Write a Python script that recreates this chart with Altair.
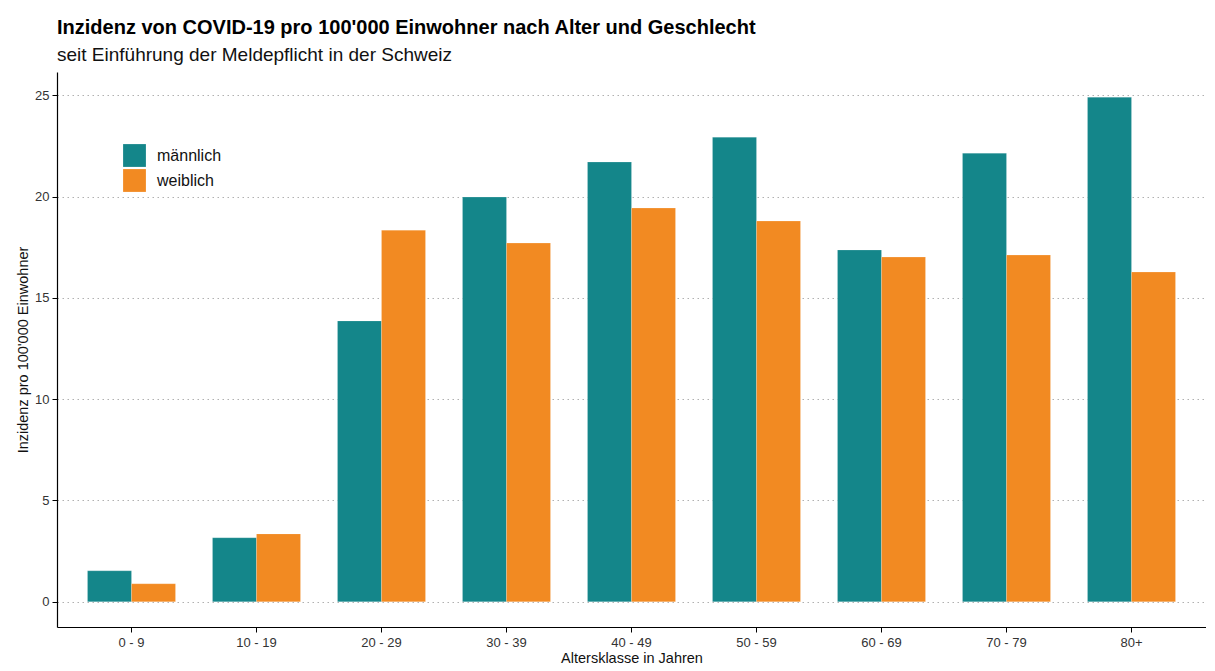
import altair as alt
import pandas as pd

categories = ["0 - 9", "10 - 19", "20 - 29", "30 - 39", "40 - 49", "50 - 59", "60 - 69", "70 - 79", "80+"]
maennlich = [1.53, 3.16, 13.86, 19.97, 21.70, 22.93, 17.36, 22.14, 24.90]
weiblich = [0.89, 3.35, 18.34, 17.70, 19.43, 18.79, 17.01, 17.11, 16.27]
groups = ["männlich", "weiblich"]
colors = ["#14868A", "#F28A22"]

rows = []
for c, m, w in zip(categories, maennlich, weiblich):
    rows.append({"Alter": c, "Geschlecht": groups[0], "Inzidenz": m})
    rows.append({"Alter": c, "Geschlecht": groups[1], "Inzidenz": w})
df = pd.DataFrame(rows)

font = "Liberation Sans"

chart = alt.Chart(df).mark_bar(stroke="white", strokeWidth=0.3, strokeOpacity=0.6).encode(
    x=alt.X("Alter:N", sort=categories, title="Altersklasse in Jahren",
            scale=alt.Scale(paddingInner=0.296, paddingOuter=0.244),
            axis=alt.Axis(labelAngle=0, grid=False, labelPadding=4, titlePadding=2)),
    xOffset=alt.XOffset("Geschlecht:N", sort=groups, scale=alt.Scale(paddingInner=0, paddingOuter=0)),
    y=alt.Y("Inzidenz:Q", title="Inzidenz pro 100'000 Einwohner",
            scale=alt.Scale(domain=[-1.245, 26.145], nice=False, zero=False),
            axis=alt.Axis(values=[0, 5, 10, 15, 20, 25], grid=True, gridDash=[1.5, 3.5],
                          gridColor="#b0b0b0", gridWidth=1, labelPadding=3, titlePadding=4)),
    color=alt.Color("Geschlecht:N", sort=groups,
                    scale=alt.Scale(domain=groups, range=colors),
                    legend=alt.Legend(title=None, orient="none", legendX=66, legendY=72,
                                      symbolType="square", symbolSize=520, symbolStrokeWidth=0,
                                      labelFontSize=16, labelFont=font, labelColor="#111",
                                      rowPadding=2, labelOffset=11)),
).properties(
    width=1149,
    height=555,
    padding={"left": 7, "top": 10, "right": 0, "bottom": 0},
    title=alt.TitleParams(
        text="Inzidenz von COVID-19 pro 100'000 Einwohner nach Alter und Geschlecht",
        subtitle="seit Einführung der Meldepflicht in der Schweiz",
        anchor="start", frame="group", font=font, fontSize=20, fontWeight="bold",
        subtitleFont=font, subtitleFontSize=19, subtitleColor="#111", color="#000",
        subtitlePadding=8, offset=7,
    ),
).configure_view(stroke=None).configure_axis(
    domainColor="#000", domainWidth=1.2, tickColor="#000", tickSize=5, tickWidth=1,
    labelFont=font, labelFontSize=13, labelColor="#333",
    titleFont=font, titleFontSize=14.5, titleColor="#111", titleFontWeight="normal",
)

chart.save("out.html", embed_options={"renderer": "svg", "actions": False})
